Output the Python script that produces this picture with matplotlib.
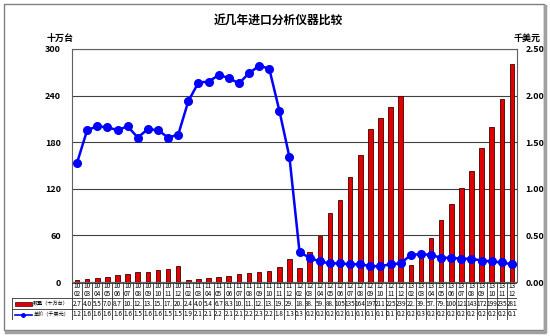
import numpy as np
import matplotlib.pyplot as plt
from matplotlib.patches import Rectangle
from matplotlib.lines import Line2D

plt.rcParams['font.family'] = ['Noto Sans CJK SC', 'DejaVu Sans']

years = ["10", "11", "12", "13"]
months = ["02", "03", "04", "05", "06", "07", "08", "09", "10", "11", "12"]
categories = [(y, m) for y in years for m in months]

# 数量（十万台）
quantity = [
    2.7, 4.0, 5.5, 7.0, 8.7, 10.2, 12.3, 13.5, 15.4, 17.2, 20.1,
    2.4, 4.0, 5.4, 6.7, 8.3, 10.1, 11.3, 12.6, 13.8, 19.2, 29.3,
    18.2, 38.5, 59.6, 88.4, 105.0, 135.0, 164.0, 197.0, 211.0, 225.0, 239.0,
    22.4, 39.0, 57.0, 79.5, 100.0, 121.0, 143.0, 172.0, 199.0, 235.0, 281.0,
]
# 单价（千美元）
price = [
    1.28, 1.63, 1.67, 1.66, 1.63, 1.67, 1.55, 1.64, 1.63, 1.55, 1.58,
    1.94, 2.14, 2.15, 2.22, 2.19, 2.13, 2.24, 2.32, 2.29, 1.84, 1.34,
    0.32, 0.26, 0.22, 0.20, 0.20, 0.19, 0.19, 0.17, 0.17, 0.19, 0.20,
    0.29, 0.30, 0.29, 0.26, 0.26, 0.25, 0.25, 0.23, 0.22, 0.21, 0.19,
]

title = "近几年进口分析仪器比较"
label_qty = "数量（十万台）"
label_price = "单价（千美元）"

W, H = 550, 336
fig = plt.figure(figsize=(W / 100, H / 100), dpi=100)

def fx(px):
    return px / W

def fy(py):
    return 1 - py / H

# outer frame with shadow
fig.patches.append(Rectangle((fx(4), fy(330)), fx(540), 326 / H, transform=fig.transFigure,
                             fill=False, edgecolor="#808080", lw=1))
fig.lines.append(Line2D([fx(6), fx(545), fx(545)], [fy(332), fy(332), fy(6)],
                        transform=fig.transFigure, color="#a0a0a0", lw=2.5))

ax_l, ax_r, ax_t, ax_b = 72, 517, 49, 282
ax = fig.add_axes([fx(ax_l), fy(ax_b), fx(ax_r - ax_l), (ax_b - ax_t) / H])
x = np.arange(len(categories))

ax.bar(x, quantity, width=0.45, color="#e00000", edgecolor="#400000", linewidth=0.6, zorder=3)
ax.set_xlim(-0.5, len(categories) - 0.5)
ax.set_ylim(0, 300)
ax.set_yticks(np.arange(0, 301, 60))
ax.set_xticks([])
ax.grid(axis="y", color="#404040", linewidth=0.8, zorder=0)
for s in ax.spines.values():
    s.set_color("#606060")
    s.set_linewidth(0.8)
ax.tick_params(axis="y", length=0, pad=8, labelsize=6.5)
for t in ax.get_yticklabels():
    t.set_fontweight("bold")

ax2 = ax.twinx()
ax2.plot(x, price, color="#0000ff", lw=1.8, marker="o", markersize=5.5, zorder=4)
ax2.set_ylim(0, 2.5)
ax2.set_yticks(np.arange(0, 2.51, 0.5))
ax2.set_yticklabels([f"{v:.2f}" for v in np.arange(0, 2.51, 0.5)])
ax2.tick_params(axis="y", length=0, pad=6, labelsize=6.5)
for t in ax2.get_yticklabels():
    t.set_fontweight("bold")
for s in ax2.spines.values():
    s.set_visible(False)

fig.text(fx(278), fy(20), title, ha="center", va="center", fontsize=8.5, fontweight="bold")
fig.text(fx(60), fy(38), "十万台", ha="center", va="center", fontsize=6.5, fontweight="bold")
fig.text(fx(527), fy(38), "千美元", ha="center", va="center", fontsize=6.5, fontweight="bold")

# data table under the plot
tab_l, tab_t, tab_b = 12, 283, 320
leg_w = (ax_l - tab_l) / ((ax_r - ax_l) / len(categories))
tab = fig.add_axes([fx(tab_l), fy(tab_b), fx(ax_r - tab_l), (tab_b - tab_t) / H])
tab.set_xlim(-0.5 - leg_w, len(categories) - 0.5)
tab.set_ylim(37, 0)
tab.axis("off")
lc = "#303030"
n = len(categories)
for i in range(n + 1):
    tab.plot([i - 0.5, i - 0.5], [0, 37], color=lc, lw=0.6)
tab.plot([-0.5 - leg_w, -0.5 - leg_w], [15, 37], color=lc, lw=0.6)
tab.plot([-0.5, n - 0.5], [0, 0], color=lc, lw=0.6)
for yy in (15, 26, 37):
    tab.plot([-0.5 - leg_w, n - 0.5], [yy, yy], color=lc, lw=0.6)

for i, (yr, mo) in enumerate(categories):
    tab.text(i, 7.5, f"{yr}\n{mo}", ha="center", va="center", fontsize=4.6, linespacing=1.0)
    tab.text(i, 20.5, f"{quantity[i]:.1f}"[:3], ha="center", va="center", fontsize=4.6)
    tab.text(i, 31.5, f"{price[i]:.2f}"[:3], ha="center", va="center", fontsize=4.6)

x0 = -0.5 - leg_w
tab.add_patch(Rectangle((x0 + 0.25, 18.5), 1.7, 4, facecolor="#e00000", edgecolor="#400000", lw=0.5))
tab.text(x0 + 2.1, 20.5, label_qty, ha="left", va="center", fontsize=3.7)
tab.plot([x0 + 0.25, x0 + 1.95], [31.5, 31.5], color="#0000ff", lw=1.2)
tab.plot([x0 + 1.1], [31.5], color="#0000ff", marker="o", markersize=2.5)
tab.text(x0 + 2.1, 31.5, label_price, ha="left", va="center", fontsize=3.7)

fig.savefig("out.png", dpi=100)
